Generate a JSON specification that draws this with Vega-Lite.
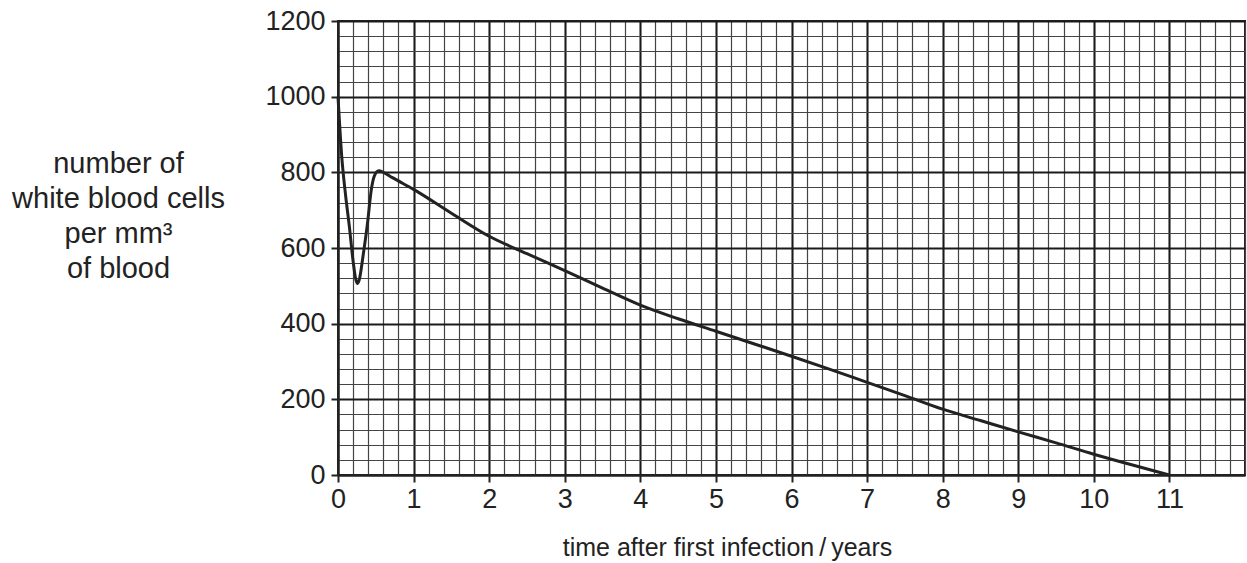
{
  "$schema": "https://vega.github.io/schema/vega-lite/v6.json",
  "width": 907,
  "height": 454,
  "autosize": {"type": "none"},
  "padding": {"left": 338, "top": 21, "right": 2, "bottom": 88},
  "background": "white",
  "config": {
    "view": {"stroke": "#222", "strokeWidth": 2},
    "font": "Liberation Sans"
  },
  "data": {
    "values": [
      {"t": 0, "wbc": 1000},
      {"t": 0.05, "wbc": 840},
      {"t": 0.1, "wbc": 740},
      {"t": 0.15, "wbc": 657},
      {"t": 0.2, "wbc": 565},
      {"t": 0.23, "wbc": 522},
      {"t": 0.255, "wbc": 506},
      {"t": 0.28, "wbc": 515},
      {"t": 0.33, "wbc": 577},
      {"t": 0.39, "wbc": 665},
      {"t": 0.44, "wbc": 753},
      {"t": 0.48, "wbc": 790},
      {"t": 0.54, "wbc": 804},
      {"t": 0.6, "wbc": 800},
      {"t": 0.72, "wbc": 786},
      {"t": 1, "wbc": 755},
      {"t": 1.5, "wbc": 692},
      {"t": 2, "wbc": 631},
      {"t": 2.5, "wbc": 585},
      {"t": 3, "wbc": 540},
      {"t": 3.5, "wbc": 494},
      {"t": 4, "wbc": 449},
      {"t": 4.5, "wbc": 413},
      {"t": 5, "wbc": 380},
      {"t": 5.5, "wbc": 347},
      {"t": 6, "wbc": 314},
      {"t": 6.5, "wbc": 280},
      {"t": 7, "wbc": 245},
      {"t": 7.5, "wbc": 210},
      {"t": 8, "wbc": 174},
      {"t": 8.5, "wbc": 144},
      {"t": 9, "wbc": 114},
      {"t": 9.5, "wbc": 85},
      {"t": 10, "wbc": 55},
      {"t": 10.5, "wbc": 27},
      {"t": 11, "wbc": 0}
    ]
  },
  "layer": [
    {
      "mark": {"type": "line", "opacity": 0},
      "encoding": {
        "x": {
          "field": "t", "type": "quantitative",
          "scale": {"domain": [0, 12], "nice": false, "zero": false},
          "axis": {
            "orient": "top",
            "values": [0,0.2,0.4,0.6,0.8,1,1.2,1.4,1.6,1.8,2,2.2,2.4,2.6,2.8,3,3.2,3.4,3.6,3.8,4,4.2,4.4,4.6,4.8,5,5.2,5.4,5.6,5.8,6,6.2,6.4,6.6,6.8,7,7.2,7.4,7.6,7.8,8,8.2,8.4,8.6,8.8,9,9.2,9.4,9.6,9.8,10,10.2,10.4,10.6,10.8,11,11.2,11.4,11.6,11.8,12],
            "grid": true, "gridColor": "#444", "gridWidth": 1.2,
            "labels": false, "ticks": false, "domain": false, "title": null
          }
        },
        "y": {
          "field": "wbc", "type": "quantitative",
          "scale": {"domain": [0, 1200], "nice": false},
          "axis": {
            "orient": "right",
            "values": [0,40,80,120,160,200,240,280,320,360,400,440,480,520,560,600,640,680,720,760,800,840,880,920,960,1000,1040,1080,1120,1160,1200],
            "grid": true, "gridColor": "#444", "gridWidth": 1.2,
            "labels": false, "ticks": false, "domain": false, "title": null
          }
        }
      }
    },
    {
      "mark": {"type": "line", "interpolate": "monotone", "color": "#222", "strokeWidth": 3},
      "encoding": {
        "x": {
          "field": "t", "type": "quantitative",
          "axis": {
            "orient": "bottom",
            "values": [0,1,2,3,4,5,6,7,8,9,10,11],
            "format": "d",
            "grid": true, "gridColor": "#1a1a1a", "gridWidth": 2,
            "domain": true, "domainColor": "#222", "domainWidth": 2,
            "ticks": true, "tickColor": "#222", "tickWidth": 2, "tickSize": 7,
            "labelFontSize": 27, "labelColor": "#222", "labelPadding": 4, "labelFlush": false,
            "title": "time after first infection\u2009/\u2009years",
            "titleFontSize": 25, "titleFontWeight": "normal", "titleColor": "#222",
            "titleAlign": "center", "titleBaseline": "alphabetic",
            "titleX": 389, "titleY": 80
          }
        },
        "y": {
          "field": "wbc", "type": "quantitative",
          "axis": {
            "orient": "left",
            "values": [0,200,400,600,800,1000,1200],
            "format": "d",
            "grid": true, "gridColor": "#1a1a1a", "gridWidth": 2,
            "domain": true, "domainColor": "#222", "domainWidth": 2,
            "ticks": true, "tickColor": "#222", "tickWidth": 2, "tickSize": 7,
            "labelFontSize": 27, "labelColor": "#222", "labelPadding": 6, "labelFlush": false,
            "title": ["number of", "white blood cells", "per mm³", "of blood"],
            "titleFontSize": 29, "titleFontWeight": "normal", "titleColor": "#222",
            "titleAngle": 0, "titleAlign": "center", "titleBaseline": "alphabetic",
            "titleLineHeight": 35,
            "titleX": -220, "titleY": 151
          }
        }
      }
    }
  ],
  "resolve": {"axis": {"x": "independent", "y": "independent"}}
}
